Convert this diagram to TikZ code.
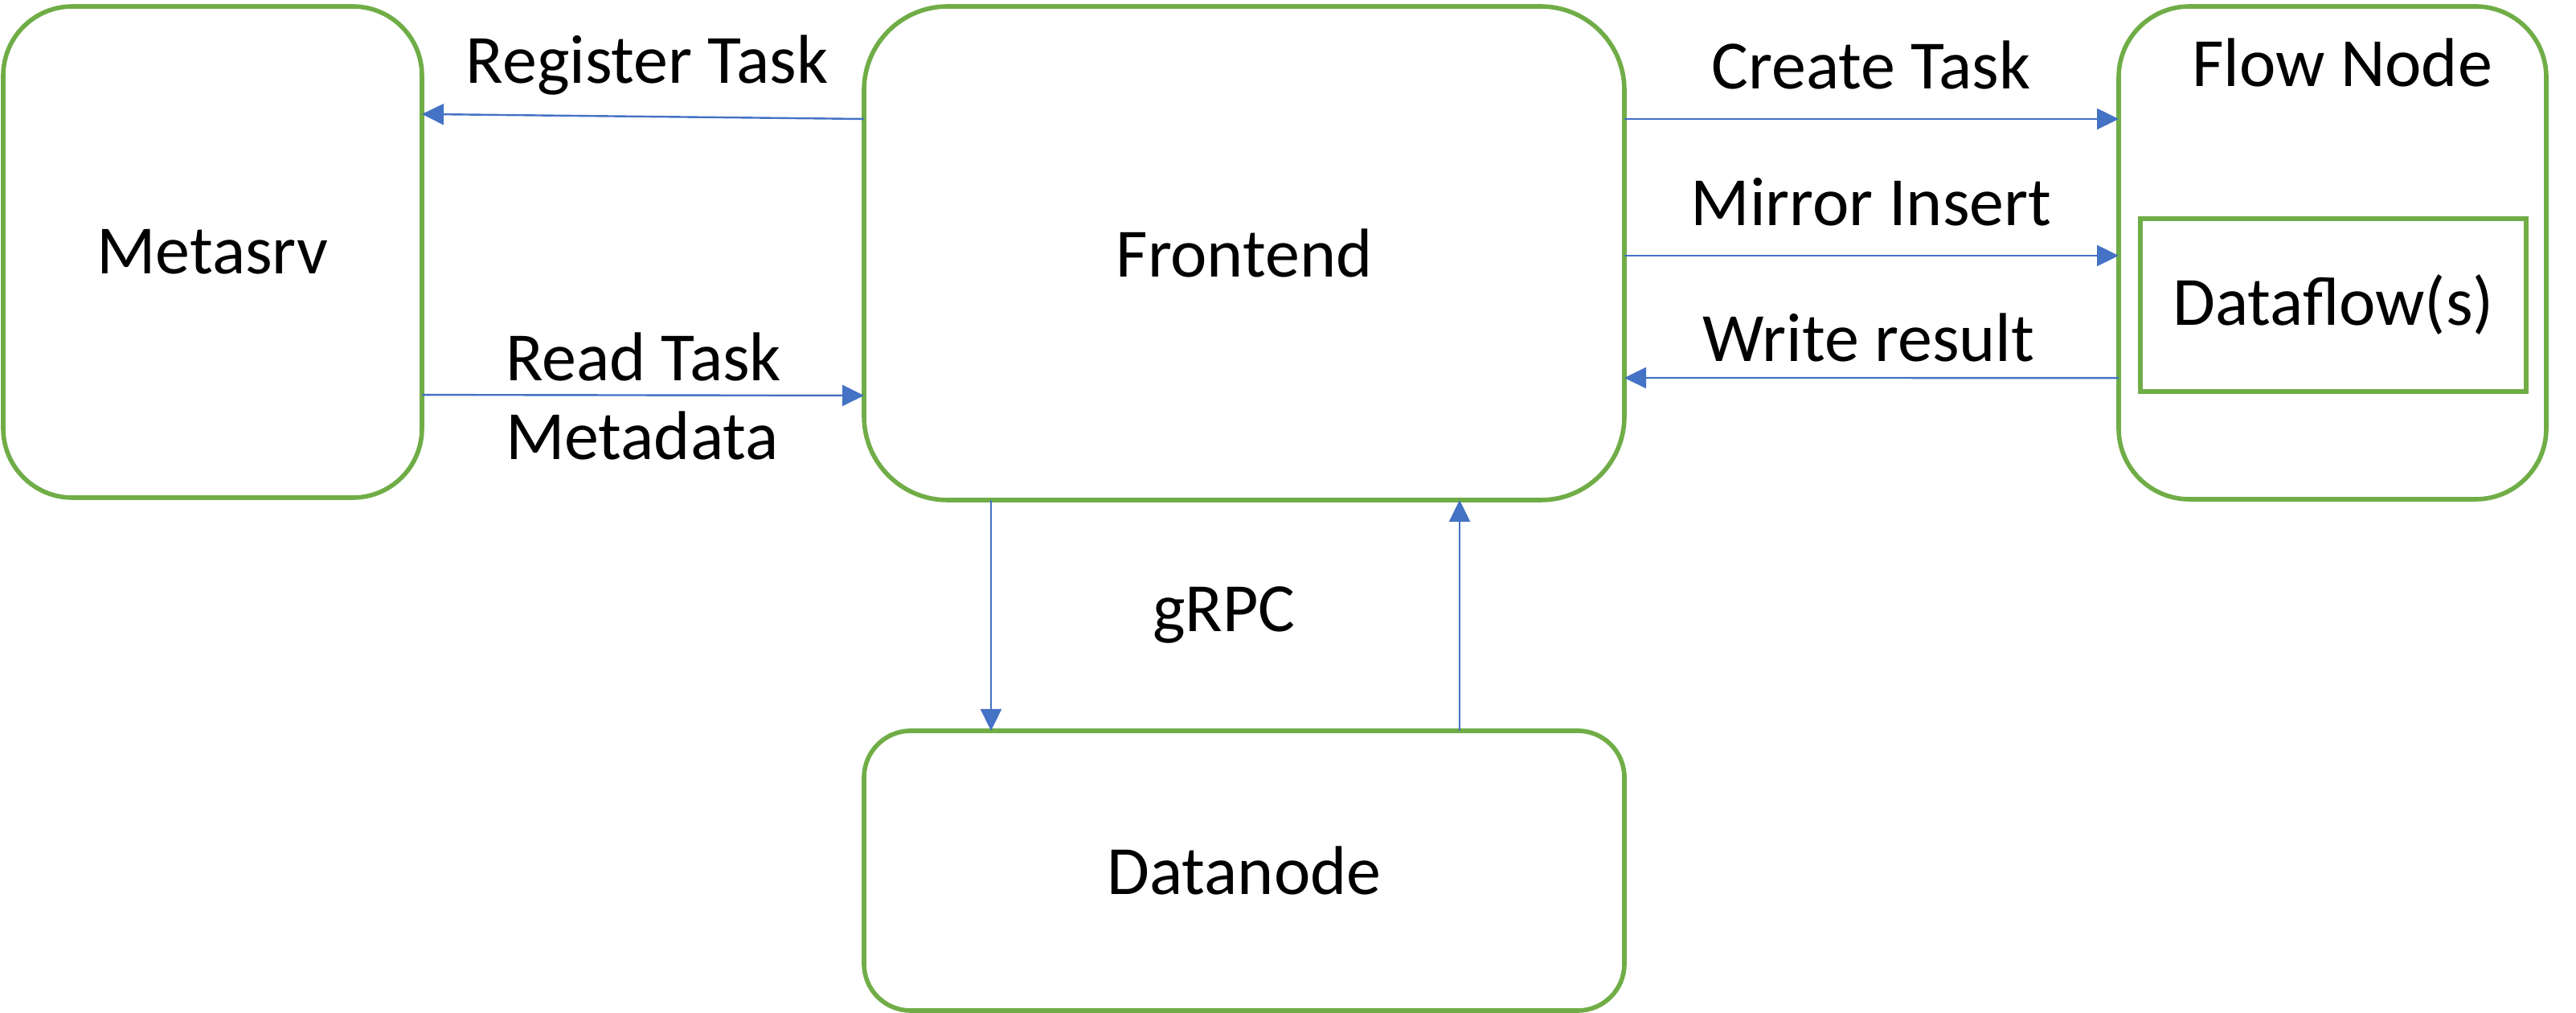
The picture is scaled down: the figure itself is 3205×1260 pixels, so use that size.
\documentclass[tikz,border=0pt]{standalone}
\usepackage{fontspec}
\setmainfont{Carlito}
\usetikzlibrary{arrows.meta}
\definecolor{boxgreen}{HTML}{70AD47}
\definecolor{arrowblue}{HTML}{4472C4}
\begin{document}
\begin{tikzpicture}[x=0.25pt,y=-0.25pt,
  every node/.style={inner sep=0pt,outer sep=0pt,font=\fontsize{21.5}{24.5}\selectfont},
  comp/.style={draw=boxgreen,line width=1.4pt,fill=white,align=center},
  conn/.style={draw=arrowblue,line width=0.6pt,-{Triangle[length=6.75pt,width=6.5pt]},shorten >=0pt},
  lbl/.style={anchor=base}]
\useasboundingbox (0,0) rectangle (3205,1260);
% components
\node[comp,rounded corners=21.5pt,minimum width=130.25pt,minimum height=152.75pt] (ms) at (264.5,313.5) {Metasrv};
\node[comp,rounded corners=26pt,minimum width=236.5pt,minimum height=153.5pt] (fe) at (1548,315) {Frontend};
\node[comp,rounded corners=14.5pt,minimum width=236.5pt,minimum height=87pt] (dn) at (1548,1083) {Datanode};
\node[comp,rounded corners=22pt,minimum width=133pt,minimum height=153.25pt] (fl) at (2902,314.5) {};
\node[lbl] (fltxt) at (2914,108) {Flow Node};
\node[comp,minimum width=120pt,minimum height=53.75pt] (df) at (2903,379.5) {Dataflow(s)};
% connectors
\draw[conn] ([yshift=41.75pt]fe.west) -- ([yshift=42.9pt]ms.east);
\draw[conn] ([yshift=-44.4pt]ms.east) -- ([yshift=-44.25pt]fe.west);
\draw[conn] ([yshift=41.75pt]fe.east) -- ([yshift=41.625pt]fl.west);
\draw[conn] ([yshift=-0.75pt]fe.east) -- ([yshift=-0.875pt]fl.west);
\draw[conn] ([yshift=-38.9pt]fl.west) -- ([yshift=-38.75pt]fe.east);
\draw[conn] ([xshift=-78.75pt]fe.south) -- ([xshift=-78.75pt]dn.north);
\draw[conn] ([xshift=67pt]dn.north) -- ([xshift=67pt]fe.south);
% labels
\node[lbl] (lreg) at (805,104) {Register Task};
\node[anchor=west,align=left] (lread) at (629,493) {Read Task\\Metadata};
\node[lbl] (lcreate) at (2328,111) {Create Task};
\node[lbl] (lmirror) at (2328,281) {Mirror Insert};
\node[lbl] (lwrite) at (2325,450) {Write result};
\node[lbl] (lgrpc) at (1523,786) {gRPC};
\end{tikzpicture}
\end{document}
